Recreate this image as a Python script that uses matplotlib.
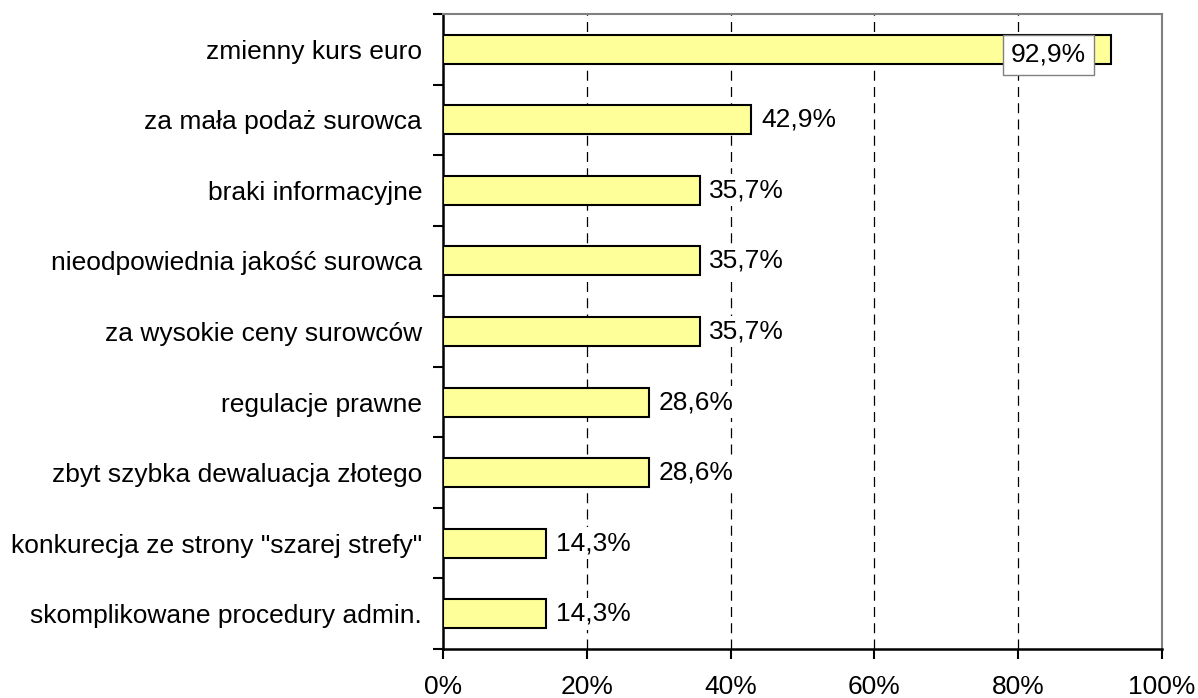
import numpy as np
import matplotlib.pyplot as plt

plt.rcParams['font.family'] = ['Liberation Sans', 'DejaVu Sans']

categories = ['zmienny kurs euro', 'za mała podaż surowca', 'braki informacyjne',
              'nieodpowiednia jakość surowca', 'za wysokie ceny surowców',
              'regulacje prawne', 'zbyt szybka dewaluacja złotego',
              'konkurecja ze strony "szarej strefy"', 'skomplikowane procedury admin.']
values = [92.9, 42.9, 35.7, 35.7, 35.7, 28.6, 28.6, 14.3, 14.3]
xticks = [0, 20, 40, 60, 80, 100]

fig = plt.figure(figsize=(11.98, 6.98), dpi=100)
ax = fig.add_axes([443 / 1198, 1 - 649 / 698, 719 / 1198, 635 / 698])

pos = np.arange(len(categories))
ax.barh(pos, values, height=0.41, color='#FFFF99', edgecolor='black', linewidth=1.5, zorder=3)

ax.set_xlim(0, 100)
ax.set_ylim(len(categories) - 0.5, -0.5)

# category ticks sit on the boundaries, labels in the middle
ax.set_yticks(np.arange(-0.5, len(categories), 1))
ax.set_yticklabels([])
ax.set_yticks(pos, minor=True)
ax.set_yticklabels(categories, minor=True, fontsize=19)
ax.tick_params(axis='y', which='major', length=7, width=1.5, direction='out')
ax.tick_params(axis='y', which='minor', length=0, pad=15)

ax.set_xticks(xticks)
ax.set_xticklabels([f'{t}%' for t in xticks], fontsize=19)
ax.tick_params(axis='x', length=7, width=1.5, direction='out', pad=12)

for t in xticks[1:-1]:
    ax.axvline(t, color='black', linewidth=0.9, linestyle=(0, (8, 5)), zorder=1)

for side in ['top', 'right']:
    ax.spines[side].set_color('#808080')
    ax.spines[side].set_linewidth(1.5)
for side in ['left', 'bottom']:
    ax.spines[side].set_color('black')
    ax.spines[side].set_linewidth(1.8)

for i, v in enumerate(values):
    lab = f'{v:.1f}%'.replace('.', ',')
    if v > 90:
        ax.annotate(lab, (v, i), xytext=(-18, -4), textcoords='offset points',
                    ha='right', va='center', fontsize=19, zorder=5,
                    bbox=dict(boxstyle='square,pad=0.3', fc='white', ec='#808080', lw=1))
    else:
        ax.annotate(lab, (v, i), xytext=(7, 0), textcoords='offset points',
                    ha='left', va='center', fontsize=19, zorder=5,
                    bbox=dict(boxstyle='square,pad=0.15', fc='white', ec='none'))

fig.savefig('out.png', dpi=100)
